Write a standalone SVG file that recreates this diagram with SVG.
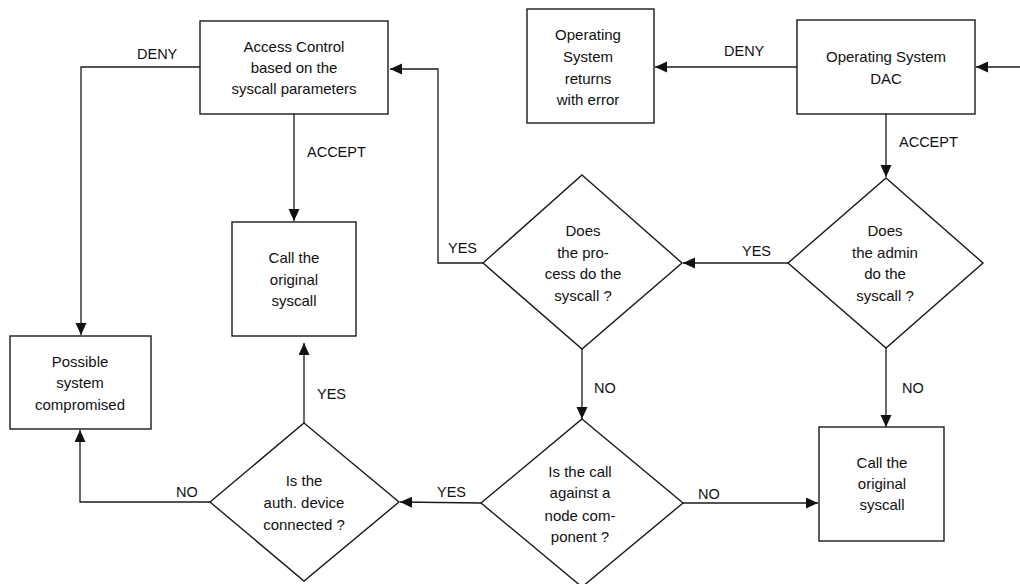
<svg xmlns="http://www.w3.org/2000/svg" width="1020" height="584" viewBox="0 0 1020 584">
<style>
.shape{fill:#ffffff;stroke:#1a1a1a;stroke-width:1.4}
.edge{fill:none;stroke:#1a1a1a;stroke-width:1.3}
.t{font-family:"Liberation Sans",Arial,sans-serif;font-size:15px;fill:#111;text-anchor:middle}
.lbl{font-family:"Liberation Sans",Arial,sans-serif;font-size:14.5px;fill:#111}
</style>
<defs>
<marker id="arr" markerUnits="userSpaceOnUse" markerWidth="13" markerHeight="12" refX="12" refY="5.5" orient="auto">
<path d="M0,0 L12,5.5 L0,11 Z" fill="#111"/>
</marker>
</defs>
<rect width="1020" height="584" fill="#ffffff"/>

<g id="connectors">
<line class="edge" x1="1020" y1="67" x2="976" y2="67" marker-end="url(#arr)"/>
<line class="edge" x1="797" y1="67" x2="655" y2="67" marker-end="url(#arr)"/>
<text class="lbl" x="724" y="56">DENY</text>
<line class="edge" x1="886" y1="114" x2="886" y2="177" marker-end="url(#arr)"/>
<text class="lbl" x="899" y="147">ACCEPT</text>
<line class="edge" x1="788" y1="263" x2="683" y2="263" marker-end="url(#arr)"/>
<text class="lbl" x="742" y="256">YES</text>
<line class="edge" x1="886" y1="348" x2="886" y2="427" marker-end="url(#arr)"/>
<text class="lbl" x="902" y="393">NO</text>
<polyline class="edge" points="483,263 438,263 438,69 390,69" marker-end="url(#arr)"/>
<text class="lbl" x="448" y="253">YES</text>
<line class="edge" x1="582" y1="349" x2="582" y2="419" marker-end="url(#arr)"/>
<text class="lbl" x="594" y="393">NO</text>
<line class="edge" x1="683" y1="503" x2="818" y2="503" marker-end="url(#arr)"/>
<text class="lbl" x="698" y="499">NO</text>
<line class="edge" x1="481" y1="503" x2="400" y2="502" marker-end="url(#arr)"/>
<text class="lbl" x="437" y="497">YES</text>
<line class="edge" x1="304" y1="423" x2="304" y2="343" marker-end="url(#arr)"/>
<text class="lbl" x="317" y="399">YES</text>
<polyline class="edge" points="210,502 80,502 80,430" marker-end="url(#arr)"/>
<text class="lbl" x="176" y="497">NO</text>
<polyline class="edge" points="200,67 81,67 81,335" marker-end="url(#arr)"/>
<text class="lbl" x="137" y="59">DENY</text>
<line class="edge" x1="294" y1="114" x2="294" y2="221" marker-end="url(#arr)"/>
<text class="lbl" x="307" y="157">ACCEPT</text>
</g>

<g id="access-control">
<rect class="shape" x="200" y="21" width="188" height="93"/>
<text class="t" x="294" y="52">Access Control</text>
<text class="t" x="294" y="73">based on the</text>
<text class="t" x="294" y="94">syscall parameters</text>
</g>

<g id="os-returns-error">
<rect class="shape" x="527" y="9" width="127" height="114"/>
<text class="t" x="588" y="40">Operating</text>
<text class="t" x="588" y="62">System</text>
<text class="t" x="588" y="84">returns</text>
<text class="t" x="588" y="105">with error</text>
</g>

<g id="os-dac">
<rect class="shape" x="797" y="20" width="178" height="94"/>
<text class="t" x="886" y="62">Operating System</text>
<text class="t" x="886" y="84">DAC</text>
</g>

<g id="admin-decision">
<polygon class="shape" points="886,178 983,263 886,348 788,263"/>
<text class="t" x="885" y="236">Does</text>
<text class="t" x="885" y="258">the admin</text>
<text class="t" x="885" y="279">do the</text>
<text class="t" x="885" y="301">syscall ?</text>
</g>

<g id="process-decision">
<polygon class="shape" points="582,175 682,263 582,349 483,263"/>
<text class="t" x="583" y="236">Does</text>
<text class="t" x="583" y="258">the pro-</text>
<text class="t" x="583" y="279">cess do the</text>
<text class="t" x="583" y="301">syscall ?</text>
</g>

<g id="call-original-left">
<rect class="shape" x="232" y="222" width="124" height="114"/>
<text class="t" x="294" y="263">Call the</text>
<text class="t" x="294" y="285">original</text>
<text class="t" x="294" y="306">syscall</text>
</g>

<g id="possible-compromised">
<rect class="shape" x="10" y="336" width="141" height="93"/>
<text class="t" x="80" y="367">Possible</text>
<text class="t" x="80" y="388">system</text>
<text class="t" x="80" y="410">compromised</text>
</g>

<g id="auth-device-decision">
<polygon class="shape" points="304,423 399,502 304,581 210,502"/>
<text class="t" x="304" y="486">Is the</text>
<text class="t" x="304" y="508">auth. device</text>
<text class="t" x="304" y="530">connected ?</text>
</g>

<g id="node-component-decision">
<polygon class="shape" points="582,419 683,503 582,587 481,503"/>
<text class="t" x="580" y="477">Is the call</text>
<text class="t" x="580" y="498">against a</text>
<text class="t" x="580" y="521">node com-</text>
<text class="t" x="580" y="542">ponent ?</text>
</g>

<g id="call-original-right">
<rect class="shape" x="819" y="427" width="125" height="114"/>
<text class="t" x="882" y="468">Call the</text>
<text class="t" x="882" y="489">original</text>
<text class="t" x="882" y="510">syscall</text>
</g>
</svg>
